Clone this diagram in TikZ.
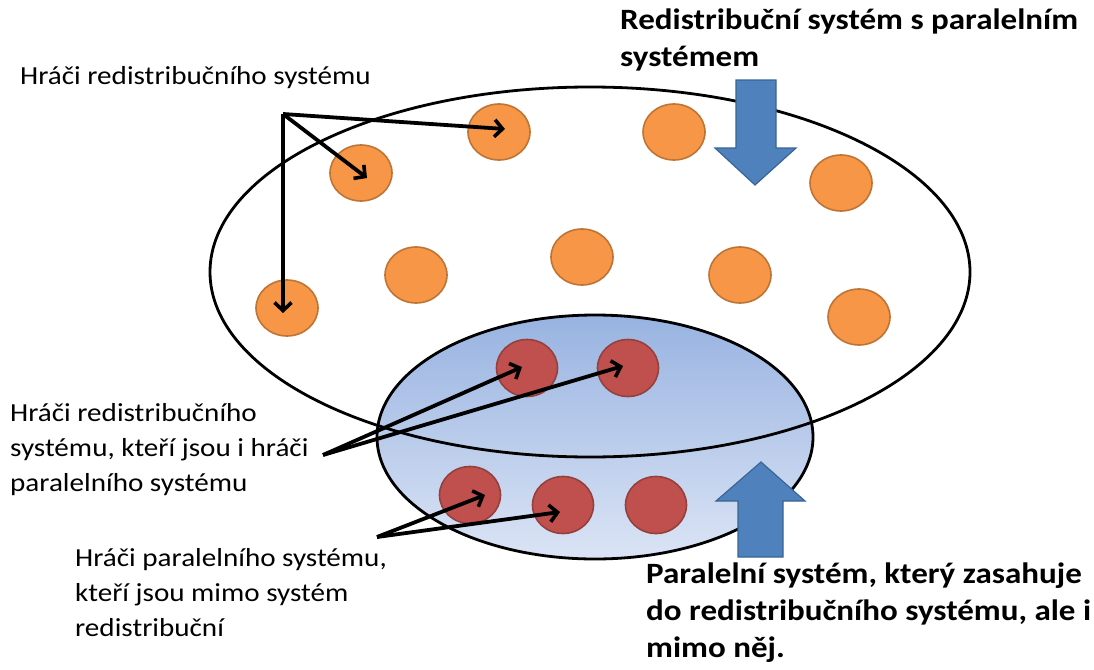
\documentclass[tikz,border=0pt]{standalone}
\usepackage{fontspec}
\setmainfont{Carlito}[FakeStretch=1.12]
\usetikzlibrary{arrows.meta,calc,shapes.geometric}
\definecolor{orangefill}{HTML}{F79646}
\definecolor{orangeline}{HTML}{BE7434}
\definecolor{redfill}{HTML}{C0504D}
\definecolor{redline}{HTML}{94403D}
\definecolor{bluefill}{HTML}{4F81BD}
\definecolor{blueline}{HTML}{3A6595}
\definecolor{shadetop}{RGB}{152,179,225}
\definecolor{shadebot}{RGB}{219,228,245}
\begin{document}
\begin{tikzpicture}[x=1pt,y=-1pt,
  orangedot/.style={ellipse,draw=orangeline,fill=orangefill,line width=1.6pt,minimum width=62pt,minimum height=56pt,inner sep=0pt},
  reddot/.style={ellipse,draw=redline,fill=redfill,line width=1.6pt,minimum width=61pt,minimum height=57pt,inner sep=0pt},
  blockarrow/.style={fill=bluefill,draw=blueline,line width=1.2pt,line join=miter},
  pointer/.style={line width=3.8pt,-{Straight Barb[length=8pt,width=17pt,line width=3.6pt]}},
  regtext/.style={inner sep=0pt,align=left,font=\fontsize{26}{35}\selectfont},
  boldtext/.style={inner sep=0pt,align=left,font=\fontsize{29.5}{37}\selectfont\bfseries}
]
\useasboundingbox (0,0) rectangle (1094,669);
\fill[white] (0,0) rectangle (1094,669);

% parallel system (blue ellipse)
\shade[top color=shadetop,bottom color=shadebot] (595,437) ellipse [x radius=218,y radius=122];
\draw[line width=2.8pt] (595,437) ellipse [x radius=218,y radius=122];
% redistribution system (big ellipse)
\draw[line width=2.8pt] (590,272) ellipse [x radius=380,y radius=185];

% orange players
\node[orangedot] (o1) at (499,132) {};
\node[orangedot] (o2) at (361,173) {};
\node[orangedot] (o3) at (674,132) {};
\node[orangedot] (o4) at (841,183) {};
\node[orangedot] (o5) at (416,275) {};
\node[orangedot] (o6) at (582,257) {};
\node[orangedot] (o7) at (740,275) {};
\node[orangedot] (o8) at (859,317) {};
\node[orangedot] (o9) at (287,308) {};

% red players
\node[reddot] (r1) at (527,368) {};
\node[reddot] (r2) at (628,368) {};
\node[reddot] (r3) at (470,495) {};
\node[reddot] (r4) at (563,505) {};
\node[reddot] (r5) at (656,505) {};

% blue block arrows
\draw[blockarrow] (736,80) -- (776,80) -- (776,148) -- (796,148) -- (755,185) -- (715,148) -- (736,148) -- cycle;
\draw[blockarrow] (738,557) -- (783,557) -- (783,501) -- (805,501) -- (761,462) -- (716,501) -- (738,501) -- cycle;

% labels
\node[regtext,anchor=base west] (lab1) at (20,84) {Hráči redistribučního systému};
\node[regtext,anchor=north west] (lab2) at (10,403) {Hráči redistribučního\\systému, kteří jsou i hráči\\paralelního systému};
\node[regtext,anchor=north west] (lab3) at (75,548) {Hráči paralelního systému,\\kteří jsou mimo systém\\redistribuční};
\node[boldtext,anchor=north west] (lab4) at (620,9) {Redistribuční systém s paralelním\\systémem};
\node[boldtext,anchor=north west] (lab5) at (646,563) {Paralelní systém, který zasahuje\\do redistribučního systému, ale i\\mimo něj.};

% connectors
\coordinate (srcA) at (283,114);
\coordinate (srcB) at (323,455);
\coordinate (srcC) at (377,537);
\draw[pointer] (srcA) -- ($(o1)+(6,-3)$);
\draw[pointer] (srcA) -- ($(o2)+(6,5)$);
\draw[pointer] (srcA) -- ($(o9)+(-4,5)$);
\draw[pointer] (srcB) -- ($(r1)+(-5,-1)$);
\draw[pointer] (srcB) -- ($(r2)+(-5,-2)$);
\draw[pointer] (srcC) -- ($(r3)+(15,0)$);
\draw[pointer] (srcC) -- ($(r4)+(-3,7)$);
\end{tikzpicture}
\end{document}
